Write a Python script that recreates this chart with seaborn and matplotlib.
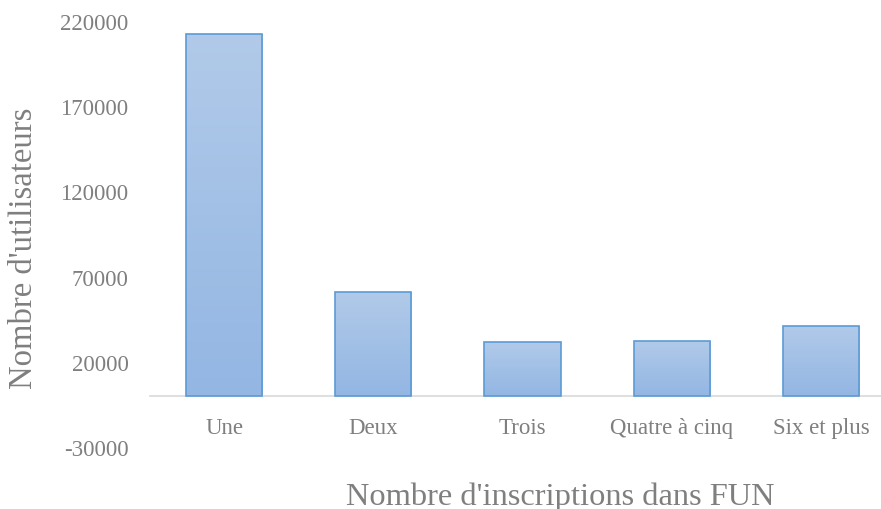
import numpy as np
import pandas as pd
import matplotlib
matplotlib.use("Agg")
import matplotlib.pyplot as plt
import seaborn as sns
from matplotlib.colors import LinearSegmentedColormap

categories = ["Une", "Deux", "Trois", "Quatre à cinq", "Six et plus"]
values = [212000, 61200, 31900, 32500, 41100]
yticks = [-30000, 20000, 70000, 120000, 170000, 220000]
xlabel = "Nombre d'inscriptions dans FUN"
ylabel = "Nombre d'utilisateurs"

sns.set_theme(style="white")
plt.rcParams['font.family'] = ['Liberation Serif', 'DejaVu Serif']

W, H = 881, 510
fig = plt.figure(figsize=(W / 100, H / 100), dpi=100)
left, right, top, bottom = 149.5, 895.6, 21.8, 448.4
ax = fig.add_axes([left / W, 1 - bottom / H, (right - left) / W, (bottom - top) / H])

df = pd.DataFrame({"cat": categories, "val": values})
sns.barplot(data=df, x="cat", y="val", ax=ax, width=0.51, color="#a5c2e6",
            edgecolor="#5b9bd5", linewidth=1.2, saturation=1, zorder=3)

cmap = LinearSegmentedColormap.from_list("grad", ["#93b6e3", "#b1cae9"])
grad = np.linspace(0, 1, 256).reshape(-1, 1)
for p in ax.patches:
    x0, y0 = p.get_x(), p.get_y()
    w, h = p.get_width(), p.get_height()
    p.set_facecolor("none")
    im = ax.imshow(grad, cmap=cmap, origin="lower", aspect="auto",
                   extent=[x0, x0 + w, y0, y0 + h], zorder=2)
    im.set_clip_path(p)

ax.set_xlim(-0.5, len(categories) - 0.5)
ax.set_ylim(-30000, 220000)
ax.set_yticks(yticks)
ax.set_yticklabels([str(t) for t in yticks])
ax.set_xlabel("")
ax.set_ylabel("")

for s in ["left", "top", "right"]:
    ax.spines[s].set_visible(False)
ax.spines["bottom"].set_position(("data", 0))
ax.spines["bottom"].set_color("#d9d9d9")
ax.spines["bottom"].set_linewidth(1.2)
ax.spines["bottom"].set_zorder(1)

ax.tick_params(axis="y", length=0, pad=15, labelsize=16.5, labelcolor="#7f7f7f")
ax.tick_params(axis="x", length=0, pad=15, labelsize=16.5, labelcolor="#7f7f7f")
ax.grid(False)
ax.set_facecolor("none")

fig.text(560 / W, 1 - 497 / H, xlabel, ha="center", va="center", fontsize=23.4, color="#7f7f7f")
fig.text(24 / W, 1 - 248 / H, ylabel, ha="center", va="center", rotation=90, fontsize=23.6, color="#7f7f7f")

fig.savefig("out.png", dpi=100)
